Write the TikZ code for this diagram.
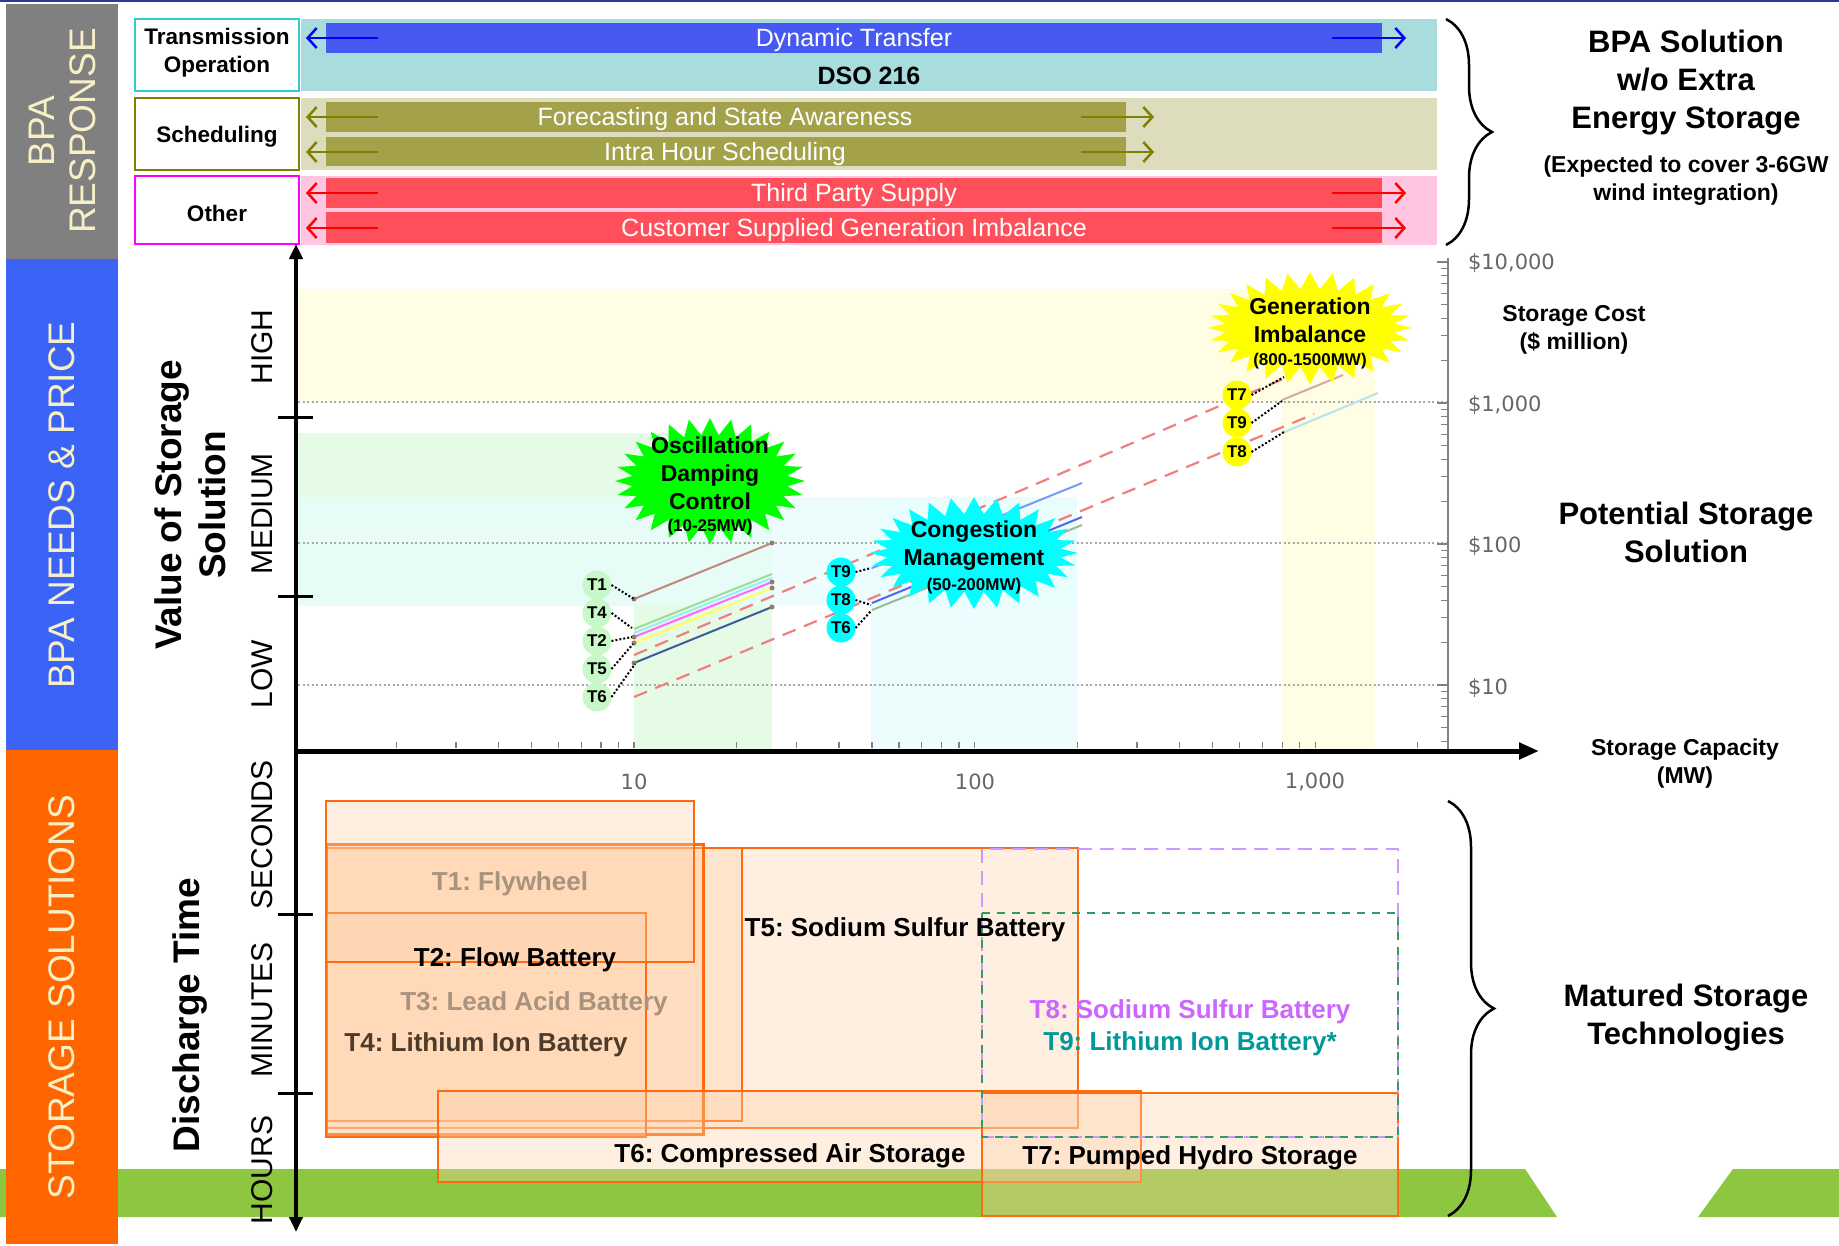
\documentclass[tikz,border=0pt]{standalone}
\usepackage{fontspec}
\setmainfont{Liberation Sans}
\newfontfamily\dvsans{DejaVu Sans}
\usetikzlibrary{arrows.meta,decorations.pathreplacing,calc}
\definecolor{topnavy}{HTML}{2B3990}
\definecolor{sidegray}{HTML}{808080}
\definecolor{sideblue}{HTML}{3B63F6}
\definecolor{sideorange}{HTML}{FF6600}
\definecolor{cream}{HTML}{F7F0C6}
\definecolor{tealband}{HTML}{A9DCDC}
\definecolor{dynblue}{HTML}{4659F0}
\definecolor{khakiband}{HTML}{DDDCBC}
\definecolor{olivebar}{HTML}{A3A14A}
\definecolor{olivearrow}{HTML}{808000}
\definecolor{pinkband}{HTML}{FFC5E1}
\definecolor{redbar}{HTML}{FF4F5B}
\definecolor{boxcyan}{HTML}{33CCCC}
\definecolor{boxmag}{HTML}{FF00FF}
\definecolor{greenband}{HTML}{8DC63F}
\definecolor{peach}{HTML}{FFD2AA}
\definecolor{boxorange}{HTML}{FF6A10}
\definecolor{lav}{HTML}{CC99FF}
\definecolor{dashgreen}{HTML}{339966}
\definecolor{tcolA}{HTML}{A8937F}
\definecolor{tcolB}{HTML}{4D3B2C}
\definecolor{tcolC}{HTML}{CC66FF}
\definecolor{tcolD}{HTML}{009999}
\definecolor{pricegray}{HTML}{666666}
\definecolor{gridgray}{HTML}{AAAAAA}
\definecolor{shadeY}{HTML}{FFFDE3}
\definecolor{shadeG}{HTML}{E6FBE6}
\definecolor{shadeC}{HTML}{E8FDFD}
\definecolor{lightgreenT}{HTML}{C8F7C8}
\definecolor{salmon}{HTML}{F08080}
\definecolor{bgreen}{HTML}{00FF00}
\definecolor{bcyan}{HTML}{00FFFF}
\definecolor{byellow}{HTML}{FFFF00}
\definecolor{lnbrown}{HTML}{C08878}
\definecolor{lngreen}{HTML}{99DD99}
\definecolor{lncyan}{HTML}{99EEEE}
\definecolor{lnmag}{HTML}{FF66FF}
\definecolor{lnyel}{HTML}{FFFF55}
\definecolor{lnnavy}{HTML}{405A9A}
\definecolor{lnblue}{HTML}{7799FF}
\definecolor{lnblue2}{HTML}{5566EE}
\definecolor{lngray}{HTML}{99BB99}
\definecolor{lnlcyan}{HTML}{B5E3F0}
\newcommand{\myburst}[6]{%
  \fill[#6] ({#1+#3},{#2}) \foreach \k in {1,...,55}{
    -- ({#1+(#3-mod(\k,2)*#5)*cos(\k*6.42857)},{#2+(#4-mod(\k,2)*#5)*sin(\k*6.42857)})
  } -- cycle;}
\tikzset{
  dn/.style={yshift=-2.5pt},
  sidetxt/.style={text=cream, rotate=90, align=center, font=\fontsize{37}{41}\selectfont},
  barrow/.style={line width=2.5pt, -{Straight Barb[length=9pt,width=20pt]}},
  whitetxt/.style={dn, text=white, font=\fontsize{25}{30}\selectfont},
  boxlab/.style={dn, font=\bfseries\fontsize{22.5}{28}\selectfont, align=center},
  rlab/.style={dn, font=\bfseries\fontsize{31}{38}\selectfont, align=center},
  slab/.style={dn, font=\bfseries\fontsize{23}{28}\selectfont, align=center},
  axlab/.style={rotate=90, xshift=-2pt, font=\fontsize{30}{36}\selectfont},
  axtitle/.style={rotate=90, align=center, font=\bfseries\fontsize{37}{44}\selectfont},
  price/.style={dn, anchor=west, text=pricegray, font=\dvsans\fontsize{21}{25}\selectfont},
  capt/.style={dn, text=pricegray, font=\dvsans\fontsize{21}{25}\selectfont},
  gridln/.style={draw=gridgray, line width=2pt, dash pattern=on 2pt off 2.5pt},
  stor/.style={draw=boxorange, line width=2.3pt, fill=peach, fill opacity=0.35},
  tlab/.style={dn, font=\bfseries\fontsize{26}{30}\selectfont},
  tdot/.style={circle, minimum size=29pt, font=\bfseries\fontsize{17}{20}\selectfont},
  lead/.style={black, line width=2pt, dotted},
  bursttxt/.style={dn, align=center, font=\bfseries\fontsize{23}{28}\selectfont},
  burstsub/.style={dn, font=\bfseries\fontsize{17}{20}\selectfont},
  dataln/.style={line width=2pt},
  saldash/.style={salmon, line width=2.2pt, dash pattern=on 14pt off 9pt},
}
\begin{document}
\frenchspacing
\begin{tikzpicture}[x=1pt,y=-1pt, every node/.style={inner sep=0pt, outer sep=0pt}]
\useasboundingbox (0,0) rectangle (1839,1245);
\fill[white] (0,0) rectangle (1839,1245);
\draw[topnavy, line width=2pt] (0,1) -- (1839,1);

% bottom green band
\fill[greenband] (0,1169) -- (1525,1169) -- (1557,1217) -- (0,1217) -- cycle;
\fill[greenband] (1733,1169) -- (1839,1169) -- (1839,1217) -- (1698,1217) -- cycle;

% side bars
\fill[sidegray] (6,4) rectangle (118,259);
\fill[sideblue] (6,259) rectangle (118,750);
\fill[sideorange] (6,750) rectangle (118,1244);
\node[sidetxt] (resp) at (62,131) {BPA\\RESPONSE};
\node[sidetxt] (needs) at (62,505) {BPA NEEDS \& PRICE};
\node[sidetxt] (sols) at (62,997) {STORAGE SOLUTIONS};

% top response bands
\fill[tealband] (301,19) rectangle (1437,91);
\fill[dynblue] (326,23) rectangle (1382,53);
\fill[khakiband] (301,98) rectangle (1437,170);
\fill[olivebar] (326,102) rectangle (1126,132);
\fill[olivebar] (326,137) rectangle (1126,166);
\fill[pinkband] (301,176) rectangle (1437,245);
\fill[redbar] (326,178) rectangle (1382,208);
\fill[redbar] (326,212) rectangle (1382,243);

\draw[boxcyan, line width=2.5pt] (135,19) rectangle (299,91);
\draw[olivearrow, line width=2.5pt] (135,98) rectangle (299,170);
\draw[boxmag, line width=2.5pt] (135,176) rectangle (299,244);
\node[boxlab] (trans) at (217,50) {Transmission\\Operation};
\node[boxlab] (sched) at (217,134) {Scheduling};
\node[boxlab] (other) at (217,211) {Other};

\node[whitetxt] (dyn) at (854,38) {Dynamic Transfer};
\node[dn, font=\bfseries\fontsize{25}{30}\selectfont] (dso) at (869,73) {DSO 216};
\node[whitetxt] (fore) at (725,117) {Forecasting and State Awareness};
\node[whitetxt] (intra) at (725,152) {Intra Hour Scheduling};
\node[whitetxt] (third) at (854,193) {Third Party Supply};
\node[whitetxt] (cust) at (854,228) {Customer Supplied Generation Imbalance};

\coordinate (bl1) at (378,38); \coordinate (bl2) at (306,38);
\coordinate (br1) at (1332,38); \coordinate (br2) at (1406,38);
\draw[barrow, blue] (bl1) -- (bl2);
\draw[barrow, blue] (br1) -- (br2);
\foreach \yy in {117,152}{
  \draw[barrow, olivearrow] (378,\yy) -- (306,\yy);
  \draw[barrow, olivearrow] (1081,\yy) -- (1154,\yy);
}
\foreach \yy in {193,228}{
  \draw[barrow, red] (378,\yy) -- (306,\yy);
  \draw[barrow, red] (1332,\yy) -- (1406,\yy);
}

% top brace and text
\draw[line width=2.5pt, decorate, decoration={brace, amplitude=46pt}] (1446,19) -- (1446,245);
\node[rlab] (bpasol) at (1686,80) {BPA Solution\\w/o Extra\\Energy Storage};
\node[slab] (expct) at (1686,178) {(Expected to cover 3-6GW\\wind integration)};

% chart shading
\fill[shadeY] (296,289) rectangle (1375,402);
\fill[shadeY] (1282,289) rectangle (1375,749);
\fill[shadeG] (296,433) rectangle (772,606);
\fill[shadeG] (634,433) rectangle (772,749);
\fill[shadeC, opacity=0.75] (296,497) rectangle (1077,606);
\fill[shadeC, opacity=0.75] (871,497) rectangle (1077,749);

% grid
\foreach \yy in {402,543,685}{ \draw[gridln] (298,\yy) -- (1448,\yy); }

% right axis
\draw[gray, line width=2pt] (1448,258) -- (1448,750);
\foreach \d in {10,100,1000,10000}{
  \draw[gray, line width=1.5pt] ({1448},{685-141*log10(\d/10)}) -- ++(-11,0);
}
\foreach \d in {4,...,9}{\draw[gray, line width=1.2pt] ({1448},{685-141*log10(\d/10)}) -- ++(-7,0);}
\foreach \d in {20,30,...,90}{\draw[gray, line width=1.2pt] ({1448},{685-141*log10(\d/10)}) -- ++(-7,0);}
\foreach \d in {200,300,...,900}{\draw[gray, line width=1.2pt] ({1448},{685-141*log10(\d/10)}) -- ++(-7,0);}
\foreach \d in {2000,3000,...,9000}{\draw[gray, line width=1.2pt] ({1448},{685-141*log10(\d/10)}) -- ++(-7,0);}

% x axis ticks
\foreach \v in {2,...,9}{\draw[gray, line width=1.2pt] ({634+340.6*log10(\v/10)},748) -- ++(0,-6);}
\foreach \v in {10,20,...,90}{\draw[gray, line width=1.2pt] ({634+340.6*log10(\v/10)},748) -- ++(0,-6);}
\foreach \v in {100,200,...,900}{\draw[gray, line width=1.2pt] ({634+340.6*log10(\v/10)},748) -- ++(0,-6);}
\foreach \v in {1000,2000}{\draw[gray, line width=1.2pt] ({634+340.6*log10(\v/10)},748) -- ++(0,-6);}

% data lines
\draw[dataln, lnbrown] (634,599) -- (772,543);
\draw[dataln, lngreen] (634,629) -- (772,574);
\draw[dataln, lncyan] (634,633) -- (772,578);
\draw[dataln, lnmag] (634,637) -- (772,582);
\draw[dataln, lnyel] (634,643) -- (772,588);
\draw[dataln, lnnavy] (634,663) -- (772,607);
\draw[saldash] (634,655) -- (1290,376);
\draw[saldash] (634,697) -- (1314,414);
\draw[dataln, lnblue] (872,568) -- (1082,483);
\draw[dataln, lnblue2] (872,603) -- (1082,517);
\draw[dataln, lngray] (872,610) -- (1082,525);
\draw[dataln, lnbrown!70!white] (1282,400) -- (1343,375);
\draw[dataln, lnlcyan] (1282,433) -- (1378,393);
\foreach \p in {(634,599),(772,543),(634,663),(772,607),(634,643),(772,588),(634,637),(772,582)}{\fill[gray!70!brown] \p circle (2.5);}

% bursts
\myburst{710}{481}{95}{63}{17}{bgreen}
\myburst{974}{553}{104}{56}{17}{bcyan}
\myburst{1310}{328}{102}{56}{17}{byellow}
\node[bursttxt] (osc) at (710,471) {Oscillation\\Damping\\Control};
\node[burstsub] (oscr) at (710,525) {(10-25MW)};
\node[bursttxt] (cong) at (974,543) {Congestion\\Management};
\node[burstsub] (congr) at (974,584) {(50-200MW)};
\node[bursttxt] (gen) at (1310,318) {Generation\\Imbalance};
\node[burstsub] (genr) at (1310,359) {(800-1500MW)};

% T labels
\node[tdot, fill=lightgreenT] (a1) at (597,585) {T1};
\node[tdot, fill=lightgreenT] (a4) at (597,613) {T4};
\node[tdot, fill=lightgreenT] (a2) at (597,641) {T2};
\node[tdot, fill=lightgreenT] (a5) at (597,669) {T5};
\node[tdot, fill=lightgreenT] (a6) at (597,697) {T6};
\coordinate (e1) at (634,599); \coordinate (e4) at (632,628);
\coordinate (e2) at (632,637); \coordinate (e5) at (633,644); \coordinate (e6) at (635,664);
\foreach \i in {1,4,2,5,6}{\draw[lead] (a\i.east) -- (e\i);}
\node[tdot, fill=bcyan] (b9) at (841,572) {T9};
\node[tdot, fill=bcyan] (b8) at (841,600) {T8};
\node[tdot, fill=bcyan] (b6) at (841,628) {T6};
\coordinate (f9) at (871,568); \coordinate (f8) at (871,605); \coordinate (f6) at (871,611);
\foreach \i in {9,8,6}{\draw[lead] (b\i.east) -- (f\i);}
\node[tdot, fill=byellow] (c7) at (1237,395) {T7};
\node[tdot, fill=byellow] (c9) at (1237,423) {T9};
\node[tdot, fill=byellow] (c8) at (1237,452) {T8};
\coordinate (g7) at (1284,377); \coordinate (g9) at (1282,401); \coordinate (g8) at (1284,432);
\foreach \i in {7,9,8}{\draw[lead] (c\i.east) -- (g\i);}

% axis labels on chart
\node[price] (p1) at (1468,261) {\$10,000};
\node[price] (p2) at (1468,403) {\$1,000};
\node[price] (p3) at (1468,544) {\$100};
\node[price] (p4) at (1468,686) {\$10};
\node[capt] (x1) at (634,779) {10};
\node[capt] (x2) at (975,779) {100};
\node[capt] (x3) at (1315,779) {1,000};
\node[slab] (scost) at (1574,327) {Storage Cost\\(\$ million)};
\node[rlab] (pot) at (1686,530) {Potential Storage\\Solution};
\node[slab] (scap) at (1685,761) {Storage Capacity\\(MW)};

% storage boxes
\draw[stor] (326,848) rectangle (1078,1128);
\draw[stor] (326,848) rectangle (742,1121);
\draw[stor, line width=3pt] (326,844) rectangle (703,1134);
\draw[stor] (326,913) rectangle (646,1137);
\draw[stor] (326,801) rectangle (694,962);
\draw[stor] (438,1091) rectangle (1141,1182);
\draw[stor] (982,1093) rectangle (1398,1216);
\draw[lav, line width=2.5pt, dash pattern=on 14pt off 8pt] (982,849) rectangle (1398,1137);
\draw[dashgreen, line width=2.5pt, dash pattern=on 8pt off 7pt] (982,913) -- (1398,913) -- (1398,1137) -- (982,1137) -- cycle;

\node[tlab, text=tcolA] (t1) at (510,881) {T1: Flywheel};
\node[tlab] (t2) at (515,957) {T2: Flow Battery};
\node[tlab, text=tcolA] (t3) at (534,1001) {T3: Lead Acid Battery};
\node[tlab, text=tcolB] (t4) at (486,1042) {T4: Lithium Ion Battery};
\node[tlab] (t5) at (905,927) {T5: Sodium Sulfur Battery};
\node[tlab] (t6) at (790,1153) {T6: Compressed Air Storage};
\node[tlab] (t7) at (1190,1155) {T7: Pumped Hydro Storage};
\node[tlab, text=tcolC] (t8) at (1190,1009) {T8: Sodium Sulfur Battery};
\node[tlab, text=tcolD] (t9) at (1190,1041) {T9: Lithium Ion Battery*};

% lower brace and text
\draw[line width=2.5pt, decorate, decoration={brace, amplitude=46pt}] (1448,801) -- (1448,1216);
\node[rlab] (mat) at (1686,1015) {Matured Storage\\Technologies};

% main axes
\coordinate (ytop) at (296,244); \coordinate (ybot) at (296,1232);
\coordinate (xl) at (294,751); \coordinate (xr) at (1539,751);
\draw[line width=4pt, {Triangle[length=15pt,width=13pt]}-{Triangle[length=15pt,width=13pt]}] (ytop) -- (ybot);
\draw[line width=5pt, -{Triangle[length=20pt,width=16pt]}] (xl) -- (xr);
\foreach \yy in {417,596,914,1093}{\draw[line width=3pt] (278,\yy) -- (313,\yy);}

\node[axlab] (hi) at (262,345) {HIGH};
\node[axlab] (med) at (262,512) {MEDIUM};
\node[axlab] (lo) at (262,672) {LOW};
\node[axlab] (sec) at (262,833) {SECONDS};
\node[axlab] (mins) at (262,1008) {MINUTES};
\node[axlab] (hrs) at (262,1168) {HOURS};
\node[axtitle] (vos) at (190,505) {Value of Storage\\Solution};
\node[axtitle] (dt) at (190,1015) {Discharge Time};
\end{tikzpicture}
\end{document}
